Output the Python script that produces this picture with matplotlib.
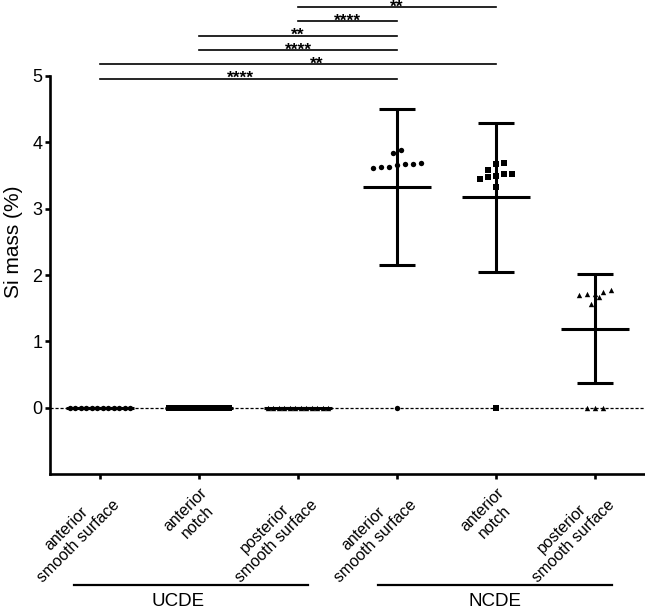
import numpy as np
import matplotlib.pyplot as plt
from matplotlib.transforms import ScaledTranslation, blended_transform_factory

plt.rcParams['font.family'] = ['Liberation Sans', 'DejaVu Sans']

# categories on the x axis
site_labels = ['anterior\nsmooth surface', 'anterior\nnotch', 'posterior\nsmooth surface',
               'anterior\nsmooth surface', 'anterior\nnotch', 'posterior\nsmooth surface']
group_names = ['UCDE', 'NCDE']

# Si mass (%) per specimen
ucde_ant_smooth = [0.0] * 12
ucde_ant_notch = [0.0] * 12
ucde_post_smooth = [0.0] * 12
ncde_ant_smooth = [0.0, 3.61, 3.63, 3.63, 3.66, 3.67, 3.67, 3.69, 3.84, 3.88]
ncde_ant_notch = [0.0, 3.32, 3.45, 3.47, 3.49, 3.52, 3.52, 3.59, 3.67, 3.69]
ncde_post_smooth = [0.0, 0.0, 0.0, 1.57, 1.67, 1.70, 1.72, 1.72, 1.75, 1.78]

# significance brackets: first group, second group, label
comp_from = [0, 0, 1, 1, 2, 2]
comp_to = [3, 4, 3, 3, 3, 4]
comp_label = ['****', '**', '****', '**', '****', '**']

all_groups = [ucde_ant_smooth, ucde_ant_notch, ucde_post_smooth,
              ncde_ant_smooth, ncde_ant_notch, ncde_post_smooth]
markers = ['o', 's', '^', 'o', 's', '^']

# layout
W, H = 645, 610
px_x = 99.0    # pixels per category
px_y = 66.4    # pixels per y unit
star_dx = [-8, 19, 0, 0, 0, 0]          # px shift of star labels
group_span = [(-0.26, 2.10), (2.81, 5.17)]
group_text_x = [0.79, 3.99]


def swarm(vals, step=8, maxwidth=60):
    # spread points with close values side by side (in pixels)
    v = np.sort(np.asarray(vals, dtype=float))
    offs = np.zeros(len(v))
    groups = []
    cur = [0]
    for i in range(1, len(v)):
        if (v[i] - v[cur[0]]) * px_y < step:
            cur.append(i)
        else:
            groups.append(cur)
            cur = [i]
    groups.append(cur)
    for g in groups:
        n = len(g)
        s = step if n < 2 else min(step, maxwidth / (n - 1))
        for k, i in enumerate(g):
            offs[i] = (k - (n - 1) / 2) * s / px_x
    return v, offs


fig = plt.figure(figsize=(W / 100, H / 100), dpi=100)
ax = fig.add_axes([50 / W, 136 / H, 595 / W, 398 / H])

ax.axhline(0, color='black', lw=0.9, ls=(0, (2.5, 1.5)), zorder=1)

for i, vals in enumerate(all_groups):
    v, offs = swarm(vals)
    ax.scatter(i + offs, v, marker=markers[i], s=15, color='black', lw=0, zorder=3)
    m = np.mean(vals)
    sd = np.std(vals, ddof=1)
    ax.plot([i, i], [m - sd, m + sd], color='black', lw=2.2, zorder=4, solid_capstyle='butt')
    ax.hlines(m, i - 0.34, i + 0.34, color='black', lw=2.2, zorder=4)
    ax.hlines([m - sd, m + sd], i - 0.18, i + 0.18, color='black', lw=2.2, zorder=4)

# significance brackets above the plot
for k in range(len(comp_from)):
    lev = 4.96 + k * 0.216
    a, b = comp_from[k], comp_to[k]
    ax.plot([a, b], [lev, lev], color='black', lw=1.2, clip_on=False)
    ax.annotate(comp_label[k], ((a + b) / 2, lev), xytext=(star_dx[k] * 0.72, -3.3),
                textcoords='offset points', ha='center', va='baseline',
                fontsize=12.5, fontweight='bold', annotation_clip=False)

ax.set_xlim(-0.505, 5.505)
ax.set_ylim(-1, 5)
ax.set_yticks(range(6))
ax.set_xticks(range(6))
ax.set_xticklabels(site_labels, rotation=45, ha='right', va='top',
                   rotation_mode='anchor', multialignment='center', fontsize=11.5)
for lab in ax.get_xticklabels():
    lab.set_transform(lab.get_transform() + ScaledTranslation(6 / 100, 0, fig.dpi_scale_trans))

for s in ['top', 'right']:
    ax.spines[s].set_visible(False)
for s in ['left', 'bottom']:
    ax.spines[s].set_linewidth(1.9)
ax.tick_params(axis='both', width=1.9, length=3.6, color='black')
ax.tick_params(axis='y', labelsize=13, pad=2)
ax.tick_params(axis='x', pad=4.3)

ax.set_ylabel('Si mass (%)', fontsize=15)
ax.yaxis.set_label_coords(-0.045, 3.5 / 6)

# group lines and names under the tick labels
trans = blended_transform_factory(ax.transData, ax.transAxes)
for g, name in enumerate(group_names):
    x0, x1 = group_span[g]
    ax.plot([x0, x1], [-0.279, -0.279], color='black', lw=1.6, transform=trans, clip_on=False)
    ax.text(group_text_x[g], -0.298, name, ha='center', va='top', fontsize=13.5, transform=trans)

fig.savefig('out.png', dpi=100)
